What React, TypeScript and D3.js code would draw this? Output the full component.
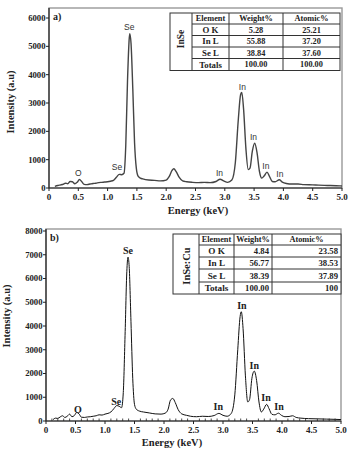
import React from "react";
import * as d3 from "d3";

// ---------- Data ----------
const energyA = [0.10,0.15,0.20,0.25,0.28,0.32,0.36,0.40,0.44,0.48,0.52,0.56,0.60,0.65,0.70,0.75,0.80,0.85,0.90,0.95,1.00,1.05,1.10,1.15,1.20,1.24,1.28,1.31,1.34,1.37,1.38,1.40,1.43,1.46,1.49,1.52,1.56,1.60,1.70,1.80,1.90,2.00,2.05,2.10,2.13,2.17,2.22,2.28,2.35,2.45,2.55,2.65,2.75,2.85,2.92,2.98,3.05,3.12,3.18,3.23,3.27,3.29,3.32,3.36,3.40,3.43,3.47,3.51,3.55,3.59,3.63,3.67,3.72,3.76,3.81,3.86,3.93,3.98,4.05,4.15,4.25,4.35,4.50,4.60,4.75,4.90,5.00];
const intensityA = [60,90,110,140,170,150,230,220,150,200,300,220,130,120,140,160,170,190,200,210,220,240,270,380,480,470,520,1500,3800,5300,5450,5100,3500,1600,700,420,350,320,280,270,250,280,400,620,680,580,380,250,220,200,190,200,190,230,310,250,200,280,900,2400,3300,3370,2800,1400,650,700,1300,1580,1250,600,350,420,560,420,230,220,290,210,160,140,140,120,110,100,90,80,70];

const energyB = [0.12,0.16,0.20,0.24,0.28,0.32,0.36,0.40,0.44,0.48,0.52,0.56,0.60,0.65,0.70,0.75,0.80,0.85,0.90,0.95,1.00,1.05,1.10,1.15,1.20,1.24,1.28,1.31,1.34,1.37,1.39,1.41,1.44,1.47,1.50,1.53,1.58,1.65,1.75,1.85,1.95,2.02,2.07,2.11,2.15,2.19,2.24,2.30,2.38,2.45,2.55,2.65,2.75,2.85,2.93,3.00,3.07,3.14,3.20,3.25,3.29,3.31,3.34,3.38,3.42,3.45,3.49,3.53,3.57,3.61,3.65,3.69,3.74,3.78,3.83,3.88,3.94,3.99,4.05,4.12,4.18,4.24,4.32,4.45,4.60,4.75,4.90,5.00];
const intensityB = [60,120,110,170,220,150,200,290,180,230,360,300,160,150,170,180,200,220,260,250,290,320,380,520,650,620,560,1200,3600,6300,6900,6500,4200,1800,700,500,420,380,340,300,290,330,500,880,950,780,480,300,240,200,180,200,190,230,320,240,200,320,1100,3000,4400,4600,3900,1900,800,900,1800,2100,1700,800,380,500,700,520,280,260,330,240,180,190,220,150,120,100,90,80,70,60];

const labelTextA = ["O","Se","Se","In","In","In","In","In"];
const labelEA = [0.50,1.16,1.37,2.91,3.30,3.49,3.70,3.94];
const labelIA = [530,740,5690,530,3570,1800,780,500];

const labelTextB = ["O","Se","Se","In","In","In","In","In"];
const labelEB = [0.54,1.19,1.39,2.92,3.32,3.53,3.73,3.95];
const labelIB = [500,840,7200,630,4880,2320,970,630];

const xTicks = [0,0.5,1.0,1.5,2.0,2.5,3.0,3.5,4.0,4.5,5.0];
const yTicksA = [0,1000,2000,3000,4000,5000,6000];
const yTicksB = [0,1000,2000,3000,4000,5000,6000,7000,8000];

const tableHeader = ["Element","Weight%","Atomic%"];
const elementsA = ["O K","In L","Se L","Totals"];
const weightA = ["5.28","55.88","38.84","100.00"];
const atomicA = ["25.21","37.20","37.60","100.00"];
const elementsB = ["O K","In L","Se L","Totals"];
const weightB = ["4.84","56.77","38.39","100.00"];
const atomicB = ["23.58","38.53","37.89","100"];

const SERIF = "'Liberation Serif','Times New Roman',serif";
const SANS = "'Liberation Sans',Arial,sans-serif";

type PanelProps = {
  energy: number[]; intensity: number[];
  x0: number; x1: number; yBase: number; yTopTick: number; frameTop: number;
  yMax: number; yTicks: number[];
  lineColor: string; lineWidth: number;
  labels: string[]; labelE: number[]; labelI: number[]; labelFont: string; labelSize: number; labelWeight: string; labelColor: string;
  tag: string; tagX: number; tagY: number;
  xTitleX: number; xTitleY: number; yTitleX: number; yTitleY: number;
  minor: boolean;
  frameColor: string;
};

function Panel(p: PanelProps) {
  const x = d3.scaleLinear().domain([0, 5]).range([p.x0, p.x1]);
  const y = d3.scaleLinear().domain([0, p.yMax]).range([p.yBase, p.yTopTick]);
  const pts = p.energy.map((e, i) => [e, p.intensity[i]] as [number, number]);
  const line = d3.line<[number, number]>().x(d => x(d[0])).y(d => y(d[1])).curve(d3.curveMonotoneX);
  const minorTicks = d3.range(0, 50).map(i => i / 10).filter(v => Math.abs(v * 2 - Math.round(v * 2)) > 1e-6);
  return (
    <g>
      <rect x={p.x0} y={p.frameTop} width={p.x1 - p.x0} height={p.yBase - p.frameTop} fill="none" stroke={p.frameColor} strokeWidth={1.4} />
      <path d={line(pts) || ""} fill="none" stroke={p.lineColor} strokeWidth={p.lineWidth} strokeLinejoin="round" />
      <line x1={p.x0} x2={p.x0} y1={p.frameTop} y2={p.yBase} stroke="#222" strokeWidth={1.2} />
      <line x1={p.x0} x2={p.x1} y1={p.yBase} y2={p.yBase} stroke="#222" strokeWidth={1.2} />
      {xTicks.map(t => (
        <g key={"xt" + t}>
          <line x1={x(t)} x2={x(t)} y1={p.yBase} y2={p.yBase + 3} stroke="#222" strokeWidth={1} />
          <text x={x(t)} y={p.yBase + 11.5} textAnchor="middle" fontFamily={SERIF} fontWeight="bold" fontSize={9} fill="#222">{t === 0 ? "0" : t.toFixed(1)}</text>
        </g>
      ))}
      {p.minor && minorTicks.map(t => (
        <line key={"mt" + t} x1={x(t)} x2={x(t)} y1={p.yBase} y2={p.yBase - 2.5} stroke="#222" strokeWidth={0.8} />
      ))}
      {p.yTicks.map(t => (
        <g key={"yt" + t}>
          <line x1={p.x0 - 3} x2={p.x0} y1={y(t)} y2={y(t)} stroke="#222" strokeWidth={1} />
          <text x={p.x0 - 3.5} y={y(t)} dy="0.33em" textAnchor="end" fontFamily={SERIF} fontWeight="bold" fontSize={8.7} fill="#222">{t}</text>
        </g>
      ))}
      <text x={p.xTitleX} y={p.xTitleY} textAnchor="middle" fontFamily={SERIF} fontWeight="bold" fontSize={10.5} fill="#222">Energy (keV)</text>
      <text transform={`translate(${p.yTitleX},${p.yTitleY}) rotate(-90)`} textAnchor="middle" fontFamily={SERIF} fontWeight="bold" fontSize={10.5} fill="#222">Intensity (a.u)</text>
      <text x={p.tagX} y={p.tagY} fontFamily={SERIF} fontWeight="bold" fontSize={10} fill="#222">{p.tag}</text>
      {p.labels.map((s, i) => (
        <text key={"lb" + i} x={x(p.labelE[i])} y={y(p.labelI[i])} dy="0.35em" textAnchor="middle" fontFamily={p.labelFont} fontWeight={p.labelWeight} fontSize={p.labelSize} fill={p.labelColor}>{s}</text>
      ))}
    </g>
  );
}

type TableProps = {
  cols: number[]; rows: number[]; title: string; titleY: number; titleSize: number;
  elements: string[]; weight: string[]; atomic: string[]; alignNumbers: "middle" | "end"; fontSize: number; headerSize: number;
};

function Table(t: TableProps) {
  const [c0, c1, c2, c3, c4] = t.cols;
  const r = t.rows;
  const colsData = [t.elements, t.weight, t.atomic];
  return (
    <g fontFamily={SERIF} fontWeight="bold" fill="#222">
      <rect x={c0} y={r[0]} width={c4 - c0} height={r[r.length - 1] - r[0]} fill="#fff" stroke="#333" strokeWidth={1} />
      {[c1, c2, c3].map((c, i) => (
        <line key={"vc" + i} x1={c} x2={c} y1={r[0]} y2={r[r.length - 1]} stroke="#333" strokeWidth={1} />
      ))}
      {r.slice(1, r.length - 1).map((yy, i) => (
        <line key={"hr" + i} x1={c1} x2={c4} y1={yy} y2={yy} stroke="#333" strokeWidth={1} />
      ))}
      <text transform={`translate(${(c0 + c1) / 2},${t.titleY}) rotate(-90)`} textAnchor="middle" dy="0.35em" fontSize={t.titleSize}>{t.title}</text>
      {tableHeader.map((h, i) => {
        const a = [c1, c2, c3][i], b = [c2, c3, c4][i];
        return <text key={"h" + i} x={(a + b) / 2} y={(r[0] + r[1]) / 2} dy="0.35em" textAnchor="middle" fontSize={t.headerSize}>{h}</text>;
      })}
      {colsData.map((col, ci) => col.map((v, ri) => {
        const a = [c1, c2, c3][ci], b = [c2, c3, c4][ci];
        const anchor = ci === 0 ? "middle" : t.alignNumbers;
        const xx = anchor === "middle" ? (a + b) / 2 : b - 3;
        return <text key={"c" + ci + "_" + ri} x={xx} y={(r[ri + 1] + r[ri + 2]) / 2} dy="0.35em" textAnchor={anchor} fontSize={ci === 0 ? t.fontSize + 0.5 : t.fontSize}>{v}</text>;
      }))}
    </g>
  );
}

export default function App() {
  return (
    <svg width={354} height={455} style={{ position: "absolute", left: 0, top: 0, background: "#fff" }}>
      <rect x={0} y={0} width={354} height={455} fill="#fff" />
      <Panel
        energy={energyA} intensity={intensityA}
        x0={49} x1={342} yBase={188} yTopTick={18} frameTop={8} yMax={6000} yTicks={yTicksA}
        lineColor="#444" lineWidth={1.4}
        labels={labelTextA} labelE={labelEA} labelI={labelIA} labelFont={SANS} labelSize={8.5} labelWeight="normal" labelColor="#333"
        tag="a)" tagX={53} tagY={20}
        xTitleX={198} xTitleY={214} yTitleX={14} yTitleY={102}
        minor={false} frameColor="#999"
      />
      <Table cols={[170, 192, 229, 283, 340]} rows={[13, 24, 35.5, 47, 58.5, 70.5]} title="InSe" titleY={39} titleSize={9.5}
        elements={elementsA} weight={weightA} atomic={atomicA} alignNumbers="middle" fontSize={8.3} headerSize={8.3} />
      <Panel
        energy={energyB} intensity={intensityB}
        x0={46} x1={341} yBase={421} yTopTick={231} frameTop={229} yMax={8000} yTicks={yTicksB}
        lineColor="#111" lineWidth={1}
        labels={labelTextB} labelE={labelEB} labelI={labelIB} labelFont={SERIF} labelSize={10} labelWeight="bold" labelColor="#222"
        tag="b)" tagX={50} tagY={241}
        xTitleX={172} xTitleY={446} yTitleX={10} yTitleY={316}
        minor={true} frameColor="#999"
      />
      <Table cols={[173, 199, 234, 272, 341]} rows={[234, 245, 257, 269, 282, 294]} title="InSe:Cu" titleY={266} titleSize={10.5}
        elements={elementsB} weight={weightB} atomic={atomicB} alignNumbers="end" fontSize={8.7} headerSize={8.3} />
    </svg>
  );
}
